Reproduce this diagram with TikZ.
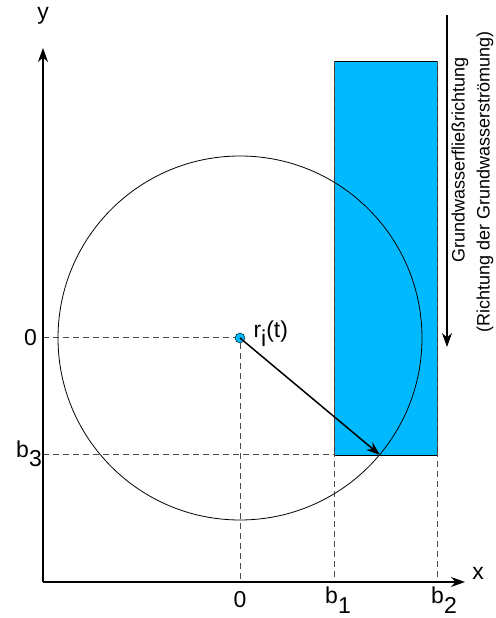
\documentclass[tikz,border=0pt]{standalone}
\usepackage{fontspec}
\setmainfont{Liberation Sans}
\usetikzlibrary{positioning,arrows.meta,calc}
\definecolor{wasserblau}{RGB}{0,185,255}
\newcommand{\idx}[1]{\raisebox{-9pt}{#1}}

\begin{document}
\begin{tikzpicture}[x=1pt,y=1pt,>={Stealth[length=14pt,width=10pt]},every node/.style={font=\fontsize{23}{25}\selectfont},
  hilf/.style={gray!60!black,dash pattern=on 6pt off 4pt,line width=1pt},
  dreh/.style={rotate=90,font=\fontsize{18}{20}\selectfont}]
\useasboundingbox (0,0) rectangle (495,618);
\coordinate (O) at (43,36);
\coordinate (ytip) at (43,570);
\coordinate (xtip) at (465,36);
\coordinate (rb) at (380,163);
\coordinate (b1o) at (334,557);
\coordinate (b2o) at (437,557);
\coordinate (b3r) at (334,163);
\draw[fill=wasserblau,draw=gray!40!black,line width=0.6pt] (b3r) rectangle (b2o);
\draw[line width=0.8pt] (b3r) -- (b2o |- b3r);
\draw[line width=0.8pt] (b1o) -- (b2o);
\draw[hilf] (O |- b3r) -- (b3r);
\draw[hilf] (b1o) -- (b1o |- O);
\draw[hilf] (b2o) -- (b2o |- O);
\node[circle,fill=wasserblau,draw,inner sep=0pt,minimum size=10pt] (c) at (240,280) {};
\draw[hilf] (O |- c) -- (c);
\draw[hilf] (c) -- (c |- O);
\draw[line width=0.8pt] (c.center) circle[radius=182];
\draw[->,line width=1.5pt] (c.center) -- (rb);
% Achsen
\draw[->,line width=1.6pt] (O) -- (ytip);
\draw[->,line width=1.6pt] (O) -- (xtip);
\node[anchor=base] (ylab) at (43,598) {y};
\node[anchor=base] (xlab) at (478,38) {x};
\node[anchor=base] (null1) at (30.5,272) {0};
\node[anchor=base] (b3lab) at (29,160) {b\idx{3}};
\node[anchor=base] (null2) at (240,10) {0};
\node[anchor=base,inner sep=0pt] (b1lab) at (338,14) {b\idx{1}};
\node[anchor=base,inner sep=0pt] (b2lab) at (444,14) {b\idx{2}};
\node[anchor=base west] (rlab) at (250,280) {r\idx{i}(t)};
% Fliessrichtung
\coordinate (fstart) at (447,603);
\coordinate (fend) at (447,271);
\draw[->,line width=1.2pt] (fstart) -- (fend);
\node[dreh] (flow1) at (460,458) {Grundwasserfließrichtung};
\node[dreh] (flow2) at (485,436) {(Richtung der Grundwasserströmung)};
\end{tikzpicture}
\end{document}
